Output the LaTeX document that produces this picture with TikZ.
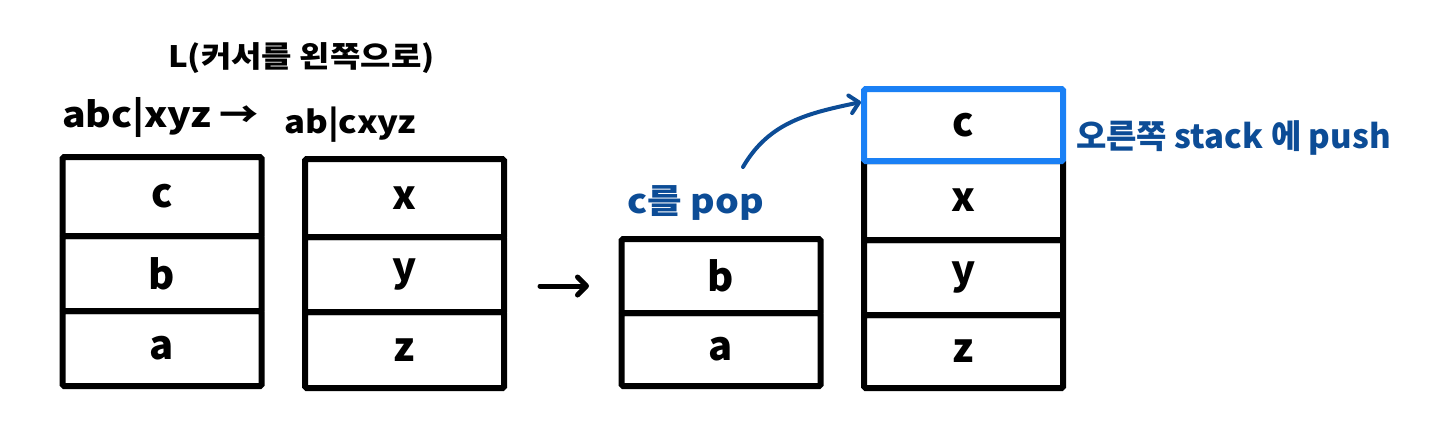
\documentclass[tikz,border=0pt]{standalone}
\usepackage{fontspec}
\setmainfont{Noto Sans CJK KR}
\newfontfamily\widefont{Noto Sans CJK KR}[FakeStretch=1.12]
\usetikzlibrary{arrows.meta,calc}
\definecolor{boxblue}{RGB}{26,128,245}
\definecolor{inkblue}{RGB}{12,76,150}
\begin{document}
\begin{tikzpicture}[x=1pt,y=-1pt,
  cell/.style={draw, line width=6pt, minimum width=199pt, rounded corners=1.5pt, inner sep=0pt, font=\fontsize{40}{40}\selectfont\bfseries},
  bluecell/.style={cell, draw=boxblue},
  lbl/.style={inner sep=0pt, font=\widefont\fontsize{32}{32}\selectfont\bfseries},
  bluelbl/.style={lbl, text=inkblue},
  barb/.style={-{Straight Barb[length=9pt,width=18pt,line cap=round,line join=round]}, line cap=round}
]
\useasboundingbox (0,0) rectangle (1440,426);
\fill[white] (0,0) rectangle (1440,426);

% titles
\node[lbl, anchor=west, font=\widefont\fontsize{29.5}{29.5}\selectfont\bfseries] (title) at (168,58) {L(커서를 왼쪽으로)};
\node[lbl, anchor=base west, font=\widefont\fontsize{35}{35}\selectfont\bfseries] (before) at (62,127) {abc|xyz →};
\node[lbl, anchor=base west, font=\widefont\fontsize{31}{31}\selectfont\bfseries] (after) at (284,133) {ab|cxyz};

% stack 1
\node[cell, minimum height=79pt] (s1c) at (162,196.5) {c};
\node[cell, minimum height=75pt] (s1b) at (162,273.5) {b};
\node[cell, minimum height=75pt] (s1a) at (162,348.5) {a};

% stack 2
\node[cell, minimum height=78pt] (s2x) at (404.5,198) {x};
\node[cell, minimum height=75pt] (s2y) at (404.5,274.5) {y};
\node[cell, minimum height=76pt] (s2z) at (404.5,350) {z};

% middle arrow
\coordinate (m1) at (540,286);
\coordinate (m2) at (589,286);
\draw[barb, line width=5pt] (m1) -- (m2);

% stack 3
\node[cell, minimum height=74pt] (s3b) at (721,276) {b};
\node[cell, minimum height=73pt] (s3a) at (721,349.5) {a};

% stack 4
\node[cell, minimum height=79pt] (s4x) at (963.5,200.5) {x};
\node[cell, minimum height=75pt] (s4y) at (963.5,277.5) {y};
\node[cell, minimum height=73pt] (s4z) at (963.5,351.5) {z};
\node[bluecell, minimum height=72pt, fill=white] (s4c) at (963.5,125) {c};

% blue labels
\node[bluelbl, anchor=base west, font=\widefont\fontsize{33.5}{33.5}\selectfont\bfseries] (pop) at (627,213) {c를 pop};
\node[bluelbl, anchor=base west, font=\fontsize{33}{33}\selectfont\bfseries] (push) at (1076,148) {오른쪽 stack 에 push};

% curved arrow
\coordinate (cstart) at (743,167);
\draw[barb, draw=inkblue, line width=4pt] (cstart) to[out=60, in=192] ([yshift=23pt]s4c.west);
\end{tikzpicture}
\end{document}
